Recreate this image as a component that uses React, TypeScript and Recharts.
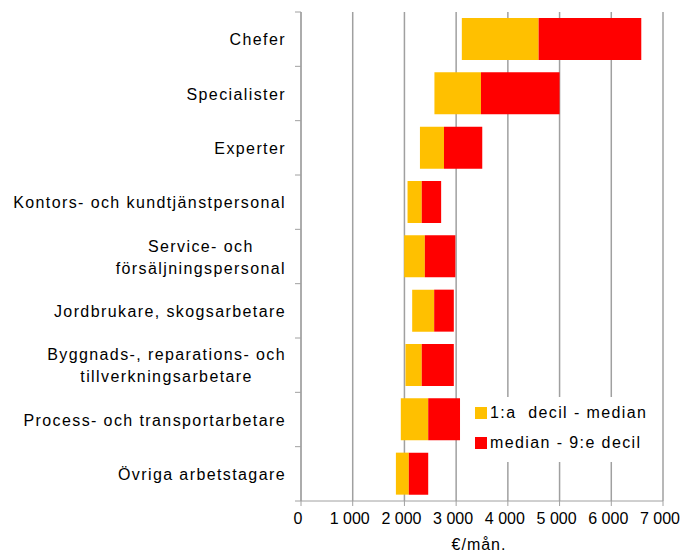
import { BarChart, Bar, XAxis, YAxis, CartesianGrid, Legend } from "recharts";

const categories = [
  "Chefer",
  "Specialister",
  "Experter",
  "Kontors- och kundtjänstpersonal",
  "Service- och\nförsäljningspersonal",
  "Jordbrukare, skogsarbetare",
  "Byggnads-, reparations- och\ntillverkningsarbetare",
  "Process- och transportarbetare",
  "Övriga arbetstagare",
];

const decile1 = [3110, 2580, 2300, 2060, 1995, 2150, 2020, 1930, 1835];
const median = [4595, 3480, 2765, 2335, 2395, 2575, 2335, 2460, 2085];
const decile9 = [6580, 5000, 3505, 2710, 2985, 2955, 2955, 3075, 2460];

const xTicks = [0, 1000, 2000, 3000, 4000, 5000, 6000, 7000];
const seriesLabels = ["1:a  decil - median", "median - 9:e decil"];
const colors = ["#FFC000", "#FF0000"];

const data = categories.map((name, i) => ({
  name,
  base: decile1[i],
  low: median[i] - decile1[i],
  high: decile9[i] - median[i],
}));

const FONT = "'Liberation Sans', Arial, sans-serif";
const AXIS = "#a0a0a0";
const TOP = 12;
const PLOT_H = 489;
const BAND = PLOT_H / categories.length;
const SPACING = 1.4;

let ctx: CanvasRenderingContext2D | null = null;
function textWidth(s: string) {
  if (!ctx) {
    ctx = document.createElement("canvas").getContext("2d");
  }
  if (!ctx) return s.length * 9;
  ctx.font = `16px ${FONT}`;
  return ctx.measureText(s).width + s.length * SPACING;
}

function CategoryTick(props: any) {
  const { y, payload, index } = props;
  const lines = String(payload.value).split("\n");
  const axisX = 301;
  const right = 286;
  const lh = 22;
  const y0 = y - ((lines.length - 1) * lh) / 2;
  const maxW = Math.max(...lines.map(textWidth));
  const cx = right - maxW / 2;
  return (
    <g>
      <line x1={axisX - 6} x2={axisX} y1={y - BAND / 2} y2={y - BAND / 2} stroke={AXIS} />
      {index === categories.length - 1 && (
        <line x1={axisX - 6} x2={axisX} y1={y + BAND / 2} y2={y + BAND / 2} stroke={AXIS} />
      )}
      <text
        x={cx}
        y={y0}
        textAnchor="middle"
        dominantBaseline="central"
        fontSize={16}
        letterSpacing={SPACING}
        fill="#000"
        fontFamily={FONT}
      >
        {lines.map((l, i) => (
          <tspan key={i} x={cx} dy={i === 0 ? 0 : lh}>
            {l}
          </tspan>
        ))}
      </text>
    </g>
  );
}

function LegendBox() {
  return (
    <div style={{ background: "#fff", width: 192, height: 65, fontFamily: FONT, fontSize: 16, color: "#000", letterSpacing: SPACING }}>
      {seriesLabels.map((label, i) => (
        <div key={i} style={{ position: "absolute", left: 11, top: 7 + i * 30, display: "flex", alignItems: "center", whiteSpace: "pre" }}>
          <span style={{ width: 12, height: 12, background: colors[i], display: "inline-block", marginRight: 3 }} />
          <span>{label}</span>
        </div>
      ))}
    </div>
  );
}

export default function App() {
  return (
    <div style={{ position: "absolute", left: 0, top: 0, width: 681, height: 555, background: "#fff" }}>
      <BarChart
        width={681}
        height={555}
        data={data}
        layout="vertical"
        margin={{ top: TOP, right: 18, bottom: 0, left: 0 }}
        barCategoryGap="11%"
      >
        <CartesianGrid horizontal={false} stroke={AXIS} strokeWidth={1.5} />
        <XAxis
          type="number"
          domain={[0, 7000]}
          ticks={xTicks}
          interval={0}
          height={54}
          stroke={AXIS}
          tickSize={5}
          tickMargin={7}
          tick={{ fill: "#000", fontSize: 16, fontFamily: FONT, dx: -3 }}
          tickFormatter={(v: number) => (v === 0 ? "0" : `${v / 1000} 000`)}
          label={{ value: "€/mån.", position: "insideBottom", offset: 5, dx: -3, fill: "#000", fontSize: 16, fontFamily: FONT, letterSpacing: 1 }}
        />
        <YAxis
          type="category"
          dataKey="name"
          width={301}
          stroke={AXIS}
          tickLine={false}
          interval={0}
          tick={<CategoryTick />}
        />
        <Legend
          layout="vertical"
          align="center"
          verticalAlign="middle"
          wrapperStyle={{ position: "absolute", left: 464, top: 397, width: 192, height: 65 }}
          content={() => <LegendBox />}
        />
        <Bar dataKey="base" stackId="a" fill="transparent" isAnimationActive={false} legendType="none" />
        <Bar dataKey="low" stackId="a" fill={colors[0]} isAnimationActive={false} />
        <Bar dataKey="high" stackId="a" fill={colors[1]} isAnimationActive={false} />
      </BarChart>
    </div>
  );
}
